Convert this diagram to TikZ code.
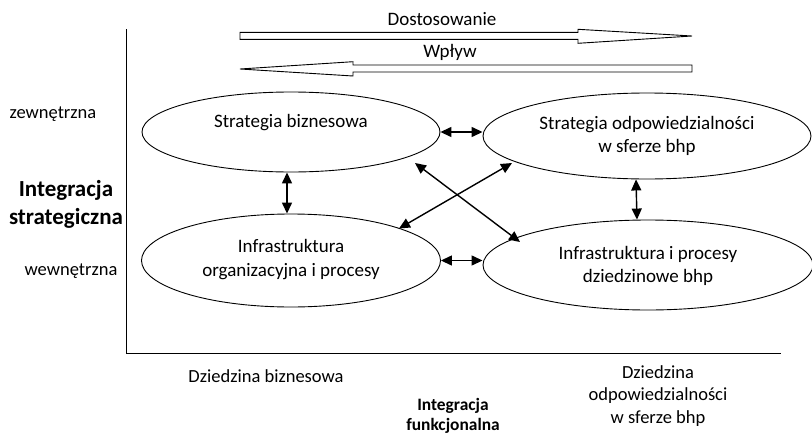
\documentclass[tikz,border=0pt]{standalone}
\usepackage{fontspec}
\setmainfont{Carlito}
\usetikzlibrary{arrows.meta,shapes.geometric}
\begin{document}
\begin{tikzpicture}[x=1pt,y=-1pt,
  oval/.style={draw, ellipse, line width=0.9pt, inner sep=0pt},
  lbl/.style={font=\fontsize{19}{23.5}\selectfont, align=center, inner sep=0pt},
  side/.style={font=\fontsize{18.5}{22.5}\selectfont, align=center, inner sep=0pt},
  bigbold/.style={font=\fontsize{23}{28}\selectfont\bfseries, align=center, inner sep=0pt},
  smallbold/.style={font=\fontsize{17.4}{20.5}\selectfont\bfseries, align=center, inner sep=0pt},
  dar/.style={{Triangle[length=11pt,width=10pt]}-{Triangle[length=11pt,width=10pt]}, line width=1.4pt},
  blockarrow/.style={draw, line width=0.9pt, fill=white},
  axis/.style={line width=1.4pt}]
\useasboundingbox (0,0) rectangle (812,434);

% axes
\coordinate (O) at (126.5,353.5);
\coordinate (Ytop) at (126.5,29);
\coordinate (Xend) at (781,353.5);
\draw[axis] (Ytop) -- (O) -- (Xend);

% block arrows
\draw[blockarrow] (240,32.3) -- (578,32.3) -- (578,29.3) -- (692,36) -- (578,43.3) -- (578,39.3) -- (240,39.3) -- cycle;
\draw[blockarrow] (692,65) -- (353,65) -- (353,61.7) -- (240,69) -- (353,76) -- (353,72) -- (692,72) -- cycle;
\node[lbl] (dost) at (442,19) {Dostosowanie};
\node[lbl] (wplyw) at (450,52) {Wpływ};

% ellipses
\node[oval, minimum width=298, minimum height=80,
  label={[lbl,yshift=9pt]center:Strategia biznesowa}] (E1) at (291,132) {};
\node[oval, minimum width=328, minimum height=86,
  label={[lbl,yshift=0pt]center:Strategia odpowiedzialności\\w sferze bhp}] (E2) at (647,136) {};
\node[oval, minimum width=299, minimum height=93,
  label={[lbl,yshift=1pt]center:Infrastruktura\\organizacyjna i procesy}] (E3) at (291,260.5) {};
\node[oval, minimum width=330, minimum height=90,
  label={[lbl,yshift=-1pt]center:Infrastruktura i procesy\\dziedzinowe bhp}] (E4) at (648,265) {};

% connectors
\draw[dar] (E1.east) -- (E1.east -| E2.west);
\draw[dar] (E3.east) -- (E3.east -| E4.west);
\draw[dar] ([xshift=-4pt]E1.south) -- ([xshift=-4pt]E3.north);
\draw[dar] ([xshift=-11pt]E2.south) -- ([xshift=-11pt]E4.north);
\draw[dar] ([shift={(124,31)}]E1.center) -- ([shift={(-128,-23)}]E4.center);
\draw[dar] ([shift={(-135,27)}]E2.center) -- ([shift={(108,-32)}]E3.center);

% side labels
\node[side] (zew) at (53,114) {zewnętrzna};
\node[bigbold] (istr) at (66,204) {Integracja\\strategiczna};
\node[side] (wew) at (71,271) {wewnętrzna};

% bottom labels
\node[side] (dbiz) at (266,376) {Dziedzina biznesowa};
\node[smallbold] (ifun) at (453,416) {Integracja\\funkcjonalna};
\node[side] (dodp) at (658,396) {Dziedzina\\odpowiedzialności\\w sferze bhp};
\end{tikzpicture}
\end{document}
